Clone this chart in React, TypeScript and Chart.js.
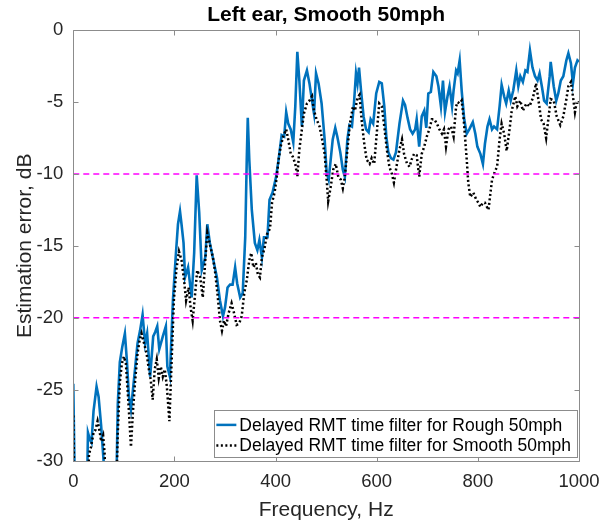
import React, { useEffect, useRef } from "react";
import { Chart, registerables } from "chart.js";

Chart.register(...registerables);

const titleText = "Left ear, Smooth 50mph";
const xLabel = "Frequency, Hz";
const yLabel = "Estimation error, dB";
const seriesLabels = [
  "Delayed RMT time filter for Rough 50mph",
  "Delayed RMT time filter for Smooth 50mph",
];
const xTicks = [0, 200, 400, 600, 800, 1000];
const yTicks = [-30, -25, -20, -15, -10, -5, 0];
const thresholdLevels = [-10, -20];

const roughFreq = [
  0, 3, 27, 29, 33, 36, 40, 46, 50, 55, 60, 63, 85, 88, 92, 97, 102, 106, 110, 114, 118, 122, 127, 132, 137, 142, 146, 152,
  158, 162, 166, 170, 177, 183, 186, 191, 197, 203, 207, 211, 214, 218, 221, 227, 234, 239, 244, 249, 254, 261, 265, 270,
  277, 284, 290, 296, 300, 305, 310, 315, 320, 324, 330, 335, 340, 343, 345, 348, 353, 359, 364, 368, 373, 377, 384, 388,
  394, 401, 406, 412, 417, 421, 425, 430, 435, 439, 443, 447, 452, 456, 462, 467, 472, 476, 480, 485, 491, 497, 501, 505,
  509, 513, 518, 522, 528, 533, 537, 542, 546, 551, 555, 559, 562, 565, 569, 574, 579, 584, 588, 593, 599, 605, 610, 615,
  619, 623, 628, 633, 638, 645, 652, 656, 661, 666, 671, 676, 679, 684, 689, 694, 698, 702, 707, 712, 718, 722, 727, 731,
  735, 740, 744, 749, 752, 757, 760, 764, 768, 773, 778, 783, 790, 795, 799, 805, 810, 814, 819, 823, 828, 832, 838, 843,
  847, 852, 856, 861, 865, 870, 876, 880, 884, 889, 894, 898, 903, 908, 913, 918, 922, 927, 931, 936, 942, 944, 950, 955,
  959, 964, 969, 975, 979, 984, 988, 992, 997, 1000,
];
const roughErr = [
  -24.6, -32, -32, -28.0, -28.5, -28.7, -26.5, -24.8, -25.5, -27.5, -30, -32, -32, -26, -23.1, -22, -21.1, -23, -25.5, -26.4,
  -25, -23.6, -21.8, -20.9, -19.8, -21.8, -21.1, -24.1, -21.3, -21, -20.6, -22.2, -21.3, -20.6, -23.4, -24.1, -18.8, -15.5,
  -13.5, -12.6, -13.5, -14.8, -17.2, -16.5, -18.6, -15.5, -10.1, -12.7, -16.7, -15.8, -13.5, -14.8, -16.0, -17.2, -18.8,
  -19.9, -19.3, -17.9, -17.7, -17.7, -16.5, -17.6, -18.6, -18.3, -14.4, -9.0, -6.1, -9.0, -12.5, -14.8, -15.3, -14.6, -15.8,
  -14.4, -14.4, -11.8, -11.3, -10.2, -9.0, -7.3, -7.4, -5.7, -6.5, -6.9, -7.8, -5.3, -1.5, -3.5, -6.7, -3.5, -2.8, -3.7,
  -4.9, -5.8, -3.0, -3.7, -5.1, -7.6, -9.9, -10.4, -9.0, -7.6, -6.8, -7.4, -8.5, -9.7, -10.2, -7.6, -6.6, -6.7, -5.1, -3.0,
  -3.7, -2.6, -4.2, -6.0, -6.9, -7.1, -6.2, -6.5, -4.4, -3.6, -3.7, -5.3, -7.4, -8.5, -8.9, -9.0, -8.5, -6.5, -4.9, -5.2,
  -6.1, -6.9, -7.2, -6.9, -6.2, -8.1, -6.0, -5.6, -6.8, -4.4, -4.3, -2.9, -3.2, -3.9, -5.3, -3.5, -5.7, -4.6, -3.9, -5.3,
  -4.2, -2.8, -3.0, -2.1, -4.2, -6.2, -7.2, -6.9, -6.4, -7.2, -8.1, -8.6, -9.3, -7.9, -6.7, -6.2, -6.9, -6.7, -6.9, -5.3,
  -3.8, -4.6, -5.1, -4.2, -4.9, -4.2, -2.8, -3.9, -3.2, -3.6, -2.8, -2.9, -1.4, -2.6, -3.2, -3.5, -3.0, -4.0, -4.9, -5.1,
  -3.2, -2.2, -3.9, -4.9, -4.4, -3.5, -3.2, -2.1, -1.6, -2.3, -3.7, -2.6, -2.1, -2.2,
];

const smoothFreq = [
  0, 2, 29, 31, 35, 40, 44, 48, 52, 55, 59, 62, 64, 85, 88, 92, 96, 100, 104, 107, 110, 114, 118, 122, 127, 131, 135, 140,
  145, 149, 153, 157, 161, 165, 169, 173, 177, 181, 185, 190, 195, 199, 204, 209, 214, 219, 223, 228, 232, 236, 241, 245,
  251, 256, 261, 265, 270, 276, 280, 285, 290, 294, 298, 302, 307, 313, 318, 323, 328, 333, 338, 343, 348, 352, 356, 361,
  365, 369, 373, 378, 383, 389, 393, 398, 402, 406, 410, 415, 421, 425, 430, 434, 439, 443, 447, 452, 456, 462, 467, 472,
  476, 481, 487, 491, 497, 501, 504, 509, 514, 519, 524, 529, 533, 537, 542, 547, 553, 557, 562, 566, 570, 575, 580, 586,
  590, 595, 600, 605, 610, 615, 620, 625, 630, 634, 640, 645, 650, 654, 660, 665, 669, 674, 679, 684, 689, 694, 699, 704,
  709, 714, 719, 724, 729, 733, 737, 742, 747, 752, 757, 760, 764, 768, 772, 775, 778, 781, 785, 791, 797, 801, 805, 810,
  814, 818, 821, 824, 828, 834, 838, 843, 847, 852, 857, 863, 867, 874, 878, 884, 889, 896, 902, 909, 915, 920, 925, 930,
  935, 940, 944, 950, 956, 963, 969, 975, 979, 984, 988, 992, 996, 1000,
];
const smoothErr = [
  -26.8, -32, -32, -29.5, -29.0, -28.0, -27.8, -27.2, -27.9, -28.6, -28.2, -29.5, -32, -32, -28, -24.5, -23.2, -22.7, -23.2,
  -24.8, -26.5, -29.0, -26.5, -24.5, -22.5, -21.6, -21.1, -21.8, -22.5, -23.5, -24.3, -25.7, -23.6, -22.9, -24.2, -23.4,
  -24.1, -23.6, -24.8, -27.2, -22.5, -18.7, -16.6, -15.4, -16.0, -17.4, -18.8, -17.9, -19.3, -20.2, -18.3, -16.7, -17.2,
  -18.6, -16.0, -14.1, -14.9, -15.8, -16.7, -18.3, -20.2, -20.9, -20.2, -20.6, -19.7, -19.0, -19.7, -20.5, -20.4, -19.9,
  -18.3, -17.4, -16.0, -15.5, -16.5, -16.2, -17.0, -17.2, -15.8, -15.2, -14.2, -13.8, -12.0, -11.3, -10.3, -9.0, -8.1, -7.4,
  -6.9, -7.6, -8.6, -8.8, -9.3, -10.2, -8.3, -6.9, -5.8, -5.1, -4.9, -4.6, -5.6, -6.2, -6.7, -7.4, -8.6, -10.4, -11.9, -10.9,
  -9.7, -9.3, -10.2, -10.4, -11.0, -10.2, -8.3, -6.5, -5.3, -5.6, -4.7, -4.5, -6.2, -7.8, -9.0, -9.3, -8.9, -9.3, -7.2, -5.1,
  -5.3, -6.7, -8.3, -9.5, -10.0, -10.6, -9.3, -8.3, -7.6, -8.6, -9.3, -9.5, -9.0, -8.6, -8.7, -10.2, -8.6, -8.1, -7.4, -6.9,
  -6.2, -6.2, -6.5, -6.9, -7.2, -6.9, -8.1, -6.9, -6.7, -7.4, -5.3, -5.0, -5.1, -4.9, -6.2, -7.6, -9.0, -10.6, -11.6, -11.3,
  -11.8, -12.0, -12.3, -12.0, -12.0, -12.3, -12.5, -11.6, -10.4, -9.8, -9.5, -7.6, -6.5, -7.2, -8.4, -6.8, -5.6, -4.6, -5.3,
  -4.9, -5.6, -5.1, -5.3, -4.7, -3.7, -4.9, -6.2, -6.5, -7.5, -6.0, -4.8, -4.9, -6.0, -6.6, -6.0, -4.8, -3.9, -3.6, -4.6,
  -5.7, -4.9, -5.1,
];

const FONT = "'Liberation Sans', Arial, Helvetica, sans-serif";
const roughColor = "#0072BD";
const smoothColor = "#000000";
const thresholdColor = "#FF00FF";
const frameColor = "#8c8c8c";
const textColor = "#262626";

const toPoints = (xs: number[], ys: number[]) => xs.map((x, i) => ({ x, y: ys[i] }));

const framePlugin = {
  id: "matlabFrame",
  afterDatasetsDraw(chart: any) {
    const { ctx, chartArea: a, scales } = chart;
    const xs = scales.x;
    const ys = scales.y;
    ctx.save();
    ctx.strokeStyle = frameColor;
    ctx.lineWidth = 1;
    const L = Math.round(a.left) + 0.5;
    const R = Math.round(a.right) + 0.5;
    const T = Math.round(a.top) + 0.5;
    const B = Math.round(a.bottom) + 0.5;
    ctx.beginPath();
    ctx.moveTo(L, T);
    ctx.lineTo(R, T);
    ctx.lineTo(R, B);
    ctx.lineTo(L, B);
    ctx.closePath();
    const tl = 5;
    xTicks.forEach((v) => {
      const px = Math.round(xs.getPixelForValue(v)) + 0.5;
      ctx.moveTo(px, B);
      ctx.lineTo(px, B - tl);
      ctx.moveTo(px, T);
      ctx.lineTo(px, T + tl);
    });
    yTicks.forEach((v) => {
      const py = Math.round(ys.getPixelForValue(v)) + 0.5;
      ctx.moveTo(L, py);
      ctx.lineTo(L + tl, py);
      ctx.moveTo(R, py);
      ctx.lineTo(R - tl, py);
    });
    ctx.stroke();
    ctx.restore();
  },
  afterDraw(chart: any) {
    const { ctx, chartArea: a } = chart;
    ctx.save();
    ctx.font = `17.5px ${FONT}`;
    const textW = Math.max(...seriesLabels.map((s) => ctx.measureText(s).width));
    const sampleW = 20;
    const padL = 2;
    const gap = 3;
    const padR = 6;
    const boxW = padL + sampleW + gap + textW + padR;
    const boxH = 47;
    const right = a.right - 2;
    const bottom = a.bottom - 4;
    const left = right - boxW;
    const top = bottom - boxH;
    ctx.fillStyle = "#ffffff";
    ctx.fillRect(left, top, boxW, boxH);
    ctx.strokeStyle = frameColor;
    ctx.lineWidth = 1;
    ctx.strokeRect(Math.round(left) + 0.5, Math.round(top) + 0.5, Math.round(boxW), Math.round(boxH));
    const rows = [top + 14.5, top + 35];
    const styles = [
      { color: roughColor, dash: [] as number[] },
      { color: smoothColor, dash: [2, 2.5] },
    ];
    rows.forEach((ry, i) => {
      ctx.beginPath();
      ctx.setLineDash(styles[i].dash);
      ctx.strokeStyle = styles[i].color;
      ctx.lineWidth = 2.5;
      ctx.moveTo(left + padL, ry);
      ctx.lineTo(left + padL + sampleW, ry);
      ctx.stroke();
      ctx.setLineDash([]);
      ctx.fillStyle = "#000000";
      ctx.textBaseline = "middle";
      ctx.textAlign = "left";
      ctx.fillText(seriesLabels[i], left + padL + sampleW + gap, ry + 1);
    });
    ctx.restore();
  },
};

export default function App() {
  const canvasRef = useRef<HTMLCanvasElement | null>(null);

  useEffect(() => {
    if (!canvasRef.current) return;
    const thresholdSets = thresholdLevels.map((lv) => ({
      label: `threshold ${lv}`,
      data: [
        { x: xTicks[0], y: lv },
        { x: xTicks[xTicks.length - 1], y: lv },
      ],
      borderColor: thresholdColor,
      borderWidth: 1.5,
      borderDash: [6, 4],
      pointRadius: 0,
      order: 0,
    }));
    const chart = new Chart(canvasRef.current, {
      type: "line",
      data: {
        datasets: [
          {
            label: seriesLabels[0],
            data: toPoints(roughFreq, roughErr),
            borderColor: roughColor,
            borderWidth: 2.6,
            pointRadius: 0,
            tension: 0,
            order: 2,
          },
          {
            label: seriesLabels[1],
            data: toPoints(smoothFreq, smoothErr),
            borderColor: smoothColor,
            borderWidth: 2.5,
            borderDash: [2, 2.5],
            pointRadius: 0,
            tension: 0,
            order: 1,
          },
          ...thresholdSets,
        ],
      },
      options: {
        animation: false,
        responsive: false,
        devicePixelRatio: 1,
        layout: { padding: { left: 0, right: 33, top: 0, bottom: 0 } },
        plugins: {
          legend: { display: false },
          tooltip: { enabled: false },
          title: {
            display: true,
            text: titleText,
            fullSize: false,
            color: "#000000",
            font: { family: FONT, size: 21, weight: "bold" },
            padding: { top: 3, bottom: 2 },
          },
        },
        scales: {
          x: {
            type: "linear",
            min: 0,
            max: 1000,
            afterBuildTicks: (scale: any) => {
              scale.ticks = xTicks.map((v) => ({ value: v }));
            },
            afterFit: (scale: any) => {
              scale.height = 63.6;
            },
            grid: { display: false, drawTicks: false },
            border: { display: false },
            ticks: {
              color: textColor,
              font: { family: FONT, size: 18.5 },
              padding: 9,
              maxRotation: 0,
              autoSkip: false,
              callback: (v: any) => String(v),
            },
            title: {
              display: true,
              text: xLabel,
              color: textColor,
              font: { family: FONT, size: 21 },
              padding: { top: 0, bottom: 2 },
            },
          },
          y: {
            type: "linear",
            min: -30,
            max: 0,
            afterBuildTicks: (scale: any) => {
              scale.ticks = yTicks.map((v) => ({ value: v }));
            },
            afterFit: (scale: any) => {
              scale.width = 73.3;
            },
            grid: { display: false, drawTicks: false },
            border: { display: false },
            ticks: {
              color: textColor,
              font: { family: FONT, size: 18.5 },
              padding: 10,
              autoSkip: false,
              callback: (v: any) => String(v),
            },
            title: {
              display: true,
              text: yLabel,
              color: textColor,
              font: { family: FONT, size: 21 },
              padding: { top: 13, bottom: 0 },
            },
          },
        },
      },
      plugins: [framePlugin],
    });
    return () => chart.destroy();
  }, []);

  return (
    <div style={{ position: "absolute", left: 0, top: 0, width: 612, height: 525, background: "#ffffff" }}>
      <canvas ref={canvasRef} width={612} height={525} style={{ display: "block" }} />
    </div>
  );
}
